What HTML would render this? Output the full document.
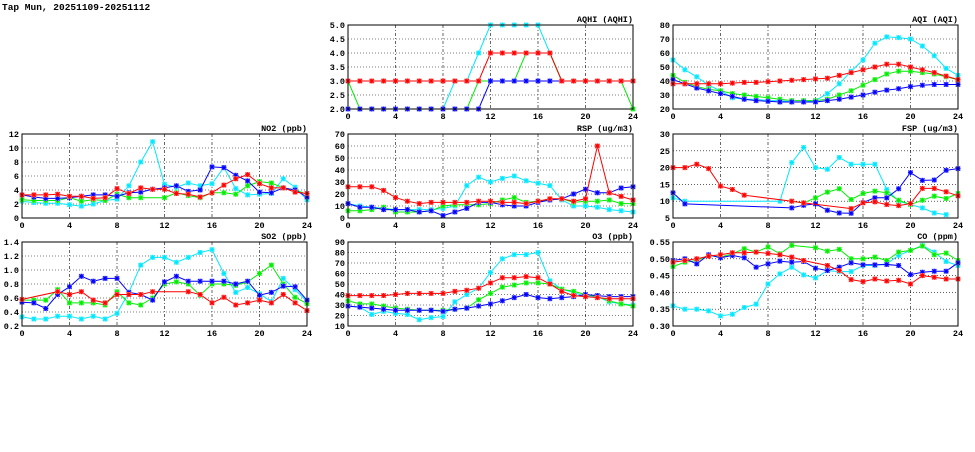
<!DOCTYPE html>
<html><head><meta charset="utf-8"><style>
body{margin:0;background:#fff;width:975px;height:447px;overflow:hidden}
svg text{font-family:"Liberation Mono","DejaVu Sans Mono",monospace;font-weight:bold;font-size:8.5px;fill:#000}
</style></head><body>
<svg id="s" width="975" height="447" xmlns="http://www.w3.org/2000/svg">
<text x="2" y="10" style="font-size:9.5px">Tap Mun, 20251109-20251112</text>
</svg>
<script>
var N=null;
var P=[
{x:348,y:25,t:"AQHI (AQHI)",min:2,max:5,st:0.5,d:1,s:[
[2,2,2,2,2,2,2,2,2,3,3,4,5,5,5,5,5,4,3,3,3,3,3,3,3],
[3,2,2,2,2,2,2,2,2,2,2,3,3,3,3,4,4,4,3,3,3,3,3,3,2],
[2,2,2,2,2,2,2,2,2,2,2,2,3,3,3,3,3,3,3,3,3,3,3,3,3],
[3,3,3,3,3,3,3,3,3,3,3,3,4,4,4,4,4,4,3,3,3,3,3,3,3]]},
{x:673,y:25,t:"AQI (AQI)",min:20,max:80,st:10,d:0,s:[
[55,48,43,37,33,28,27,27,26,26,25,25,26,31,38,47,55,67,71.5,71,70,65,58,49,44],
[44,39,36,34,33,31,30,29,28,27,26,26,26,27,30,33,37,41,45,47,47,46,45,43,41],
[41,38,35,33,31,29,27,26,25.5,25,25,25,25,26,27,28.5,30,32,33.5,34.5,36,37,37.5,37.5,37.5],
[38,38,38,38,38,38.5,39,39,39.5,40,40.5,41,41.5,42,44,46,48,50,52,52,50,48,46,43.5,41]]},
{x:22,y:134,t:"NO2 (ppb)",min:0,max:12,st:2,d:0,s:[
[2.4,2.2,2.1,2.1,1.9,1.7,2.0,2.5,2.7,4.6,8,10.9,4.8,4.4,5,4.6,4.9,7.2,4.2,3.3,3.4,3.5,5.6,4.4,2.6],
[2.6,2.5,2.5,2.5,2.9,2.4,2.6,2.5,3.4,2.9,2.9,N,2.9,3.6,3.2,2.9,3.6,3.6,3.4,4.6,5.2,5,4.3,4,3.4],
[3.3,3,2.8,2.8,2.9,3.1,3.3,3.3,3.1,3.6,3.7,4.1,4.3,4.6,3.8,4,7.3,7.2,6.1,5.3,3.7,3.6,4.3,4,3],
[3.3,3.3,3.3,3.4,3.1,3.1,2.8,2.9,4.2,3.5,4.3,4.1,4.1,3.5,3.4,3,3.6,4.7,5.6,6.2,4.9,4.3,4.3,3.7,3.5]]},
{x:348,y:134,t:"RSP (ug/m3)",min:0,max:70,st:10,d:0,s:[
[12,10,9,8,7,7,7,7,8,10,27,34,30,33,35,31,29,27,15,10,10,9,7,6,5],
[6,6,7,9,5,5,5,6,10,11,11,11,12,15,17,13,14,15,16,13,14,14,15,12,12],
[12,9,9,7,7,7,5,6,2,5,8,13,13,11,10,10,13,15,16,20,24,21,21,25,26],
[26,26,26,23,17,14,12,13,13,13,13,14,14,13,13,12,14,16,16,14,16,60,21,18,15]]},
{x:673,y:134,t:"FSP (ug/m3)",min:5,max:30,st:5,d:0,s:[
[11,10,N,N,N,N,N,N,N,10,21.5,26,20,19.5,23,21,21,21,13.5,10,9,8,6.5,6,N],
[N,N,N,N,N,N,N,N,N,N,10,9.5,11,12.7,13.7,10.5,12.3,13,12.5,10.3,9,10.3,11.5,10.8,12.3],
[12.5,9.2,N,N,N,N,N,N,N,N,8,8.8,9.2,7.3,6.5,6.4,9.6,11,11,13.7,18.5,16.2,16.3,19.2,19.7],
[20,20,21,19.7,14.5,13.5,11.8,N,N,N,10,9.5,N,N,N,7.8,9.5,9.8,9,8.7,9.3,13.8,13.8,12.8,11.6]]},
{x:22,y:242,t:"SO2 (ppb)",min:0.2,max:1.4,st:0.2,d:1,s:[
[.33,.30,.30,.34,.34,.30,.34,.30,.38,.68,1.07,1.18,1.18,1.11,1.18,1.25,1.29,.95,.68,.75,.66,.55,.88,.72,.55],
[.57,.57,.57,.72,.53,.53,.53,.50,.69,.53,.50,.60,.80,.83,.80,.64,.80,.80,.78,.83,.95,1.07,.80,.61,.52],
[.54,.53,.45,.65,.76,.91,.84,.88,.88,.68,.65,.57,.83,.91,.84,.84,.84,.84,.80,.84,.64,.68,.77,.76,.57],
[.58,N,N,.69,.65,.69,.57,.53,.65,.65,.65,.69,N,N,.69,.65,.53,.61,.50,.53,.57,.53,.65,.53,.42]]},
{x:348,y:242,t:"O3 (ppb)",min:10,max:90,st:10,d:0,s:[
[29,28,21,24,22,21,16,18,19,33,40,46,61,74,78,78,80,53,45,42,38,38,33,31,30],
[34,31,31,29,27,26,25,25,25,26,27,35,41,47,49,51,51,50,45,43,40,38,34,31,29],
[29,28,27,26,25,25,25,25,24,26,27,29,31,34,37,40,37,36,37,38,40,39,38,38,38],
[39,39,39,39,40,41,41,41,41,43,44,46,51,56,56,57,56,50,43,39,38,37,36,36,36]]},
{x:673,y:242,t:"CO (ppm)",min:0.3,max:0.55,st:0.05,d:2,s:[
[.36,.35,.35,.345,.33,.335,.355,.365,.425,.455,.475,.452,.443,.465,.462,.462,.48,.48,.485,.51,.525,.54,.52,.492,.48],
[.477,.49,.495,.51,.505,.515,.53,.52,.535,.515,.54,N,.533,.523,.528,.50,.50,.505,.495,.52,.525,.538,.512,.517,.495],
[.495,.50,.485,.512,.503,.51,.503,.475,.485,.493,.49,.492,.472,.465,.475,.488,.482,.482,.483,.48,.453,.46,.463,.463,.488],
[.49,.495,.50,.508,.512,.518,.518,.52,.516,.512,.505,.495,N,.48,.465,.438,.432,.44,.434,.436,.425,.45,.445,.44,.44]]}
];
var C=["#00e8ff","#00ee00","#0000ff","#ff0000"],L=["#99f4ff","#99f799","#9999ff","#ff9999"];
var W=285,H=84,o="";
P.forEach(function(p){
 var X=function(i){return p.x+i*W/24},Y=function(v){return p.y+H-(v-p.min)/(p.max-p.min)*H};
 var n=Math.round((p.max-p.min)/p.st);
 for(var k=0;k<=n;k++){var v=p.min+k*p.st,y=Y(v);
  if(k>0&&k<n)o+='<line x1="'+p.x+'" x2="'+(p.x+W)+'" y1="'+y+'" y2="'+y+'" stroke="#000" stroke-width="0.6" stroke-dasharray="1,2"/>';
  o+='<text x="'+(p.x-3)+'" y="'+(y+3)+'" text-anchor="end">'+v.toFixed(p.d)+'</text>';}
 for(var i=0;i<=24;i+=4){var x=X(i);
  if(i>0&&i<24)o+='<line x1="'+x+'" x2="'+x+'" y1="'+p.y+'" y2="'+(p.y+H)+'" stroke="#000" stroke-width="0.6" stroke-dasharray="3,2,1,2"/>';
  o+='<text x="'+x+'" y="'+(p.y+H+10)+'" text-anchor="middle">'+i+'</text>';}
 o+='<text x="'+(p.x+W)+'" y="'+(p.y-3)+'" text-anchor="end">'+p.t+'</text>';
 p.s.forEach(function(s,j){var pts=[];s.forEach(function(v,i){if(v!==null)pts.push(X(i).toFixed(1)+','+Y(v).toFixed(1))});
  o+='<polyline points="'+pts.join(' ')+'" fill="none" stroke="'+C[j]+'" stroke-width="1"/>';
  s.forEach(function(v,i){if(v===null)return;var x=X(i),y=Y(v);
   o+='<rect x="'+(x-2.5)+'" y="'+(y-2.5)+'" width="5" height="5" fill="'+L[j]+'"/>';
   o+='<path d="M'+(x-2)+' '+(y-2)+'L'+(x+2)+' '+(y+2)+'M'+(x-2)+' '+(y+2)+'L'+(x+2)+' '+(y-2)+'M'+(x-2.5)+' '+y+'H'+(x+2.5)+'M'+x+' '+(y-2.5)+'V'+(y+2.5)+'" stroke="'+C[j]+'" stroke-width="1"/>';});
 });
 o+='<rect x="'+p.x+'" y="'+p.y+'" width="'+W+'" height="'+H+'" fill="none" stroke="#000" stroke-width="1"/>';
});
document.getElementById("s").insertAdjacentHTML("beforeend",o);
</script>
</body></html>
